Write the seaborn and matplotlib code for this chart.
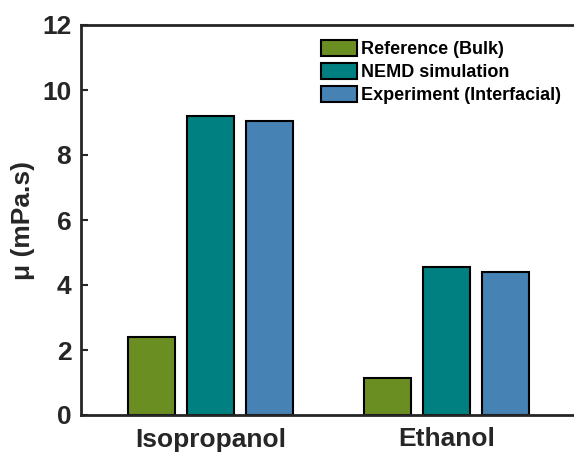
import numpy as np
import pandas as pd
import matplotlib
matplotlib.use("Agg")
import matplotlib.pyplot as plt
import seaborn as sns

# Viscosity values (mPa.s)
liquids = ["Isopropanol", "Ethanol"]
methods = ["Reference (Bulk)", "NEMD simulation", "Experiment (Interfacial)"]
reference_bulk = [2.4, 1.15]
nemd_simulation = [9.2, 4.55]
experiment_interfacial = [9.05, 4.4]
bar_colors = ["#6B8E23", "#008080", "#4682B4"]

df = pd.DataFrame({
    "liquid": liquids * 3,
    "method": [m for m in methods for _ in liquids],
    "mu": reference_bulk + nemd_simulation + experiment_interfacial,
})

sns.set_theme(style="white")
plt.rcParams["font.family"] = ["Liberation Sans", "DejaVu Sans"]
plt.rcParams["font.weight"] = "bold"

ink = "#262626"
fig = plt.figure(figsize=(5.74, 4.55), dpi=100)
ax = fig.add_axes([81 / 574, 40 / 455, 500 / 574, 390 / 455])

sns.barplot(data=df, x="liquid", y="mu", hue="method", order=liquids,
            hue_order=methods, palette=bar_colors, saturation=1,
            width=0.75, gap=0.2, edgecolor="black", linewidth=1.5,
            errorbar=None, ax=ax)

ax.set_ylim(0, 12)
ax.set_yticks(np.arange(0, 13, 2))
ax.set_xlim(-0.547, 1.568)
ax.set_xlabel("")
ax.set_ylabel("μ (mPa.s)", fontsize=19, fontweight="bold", color=ink, labelpad=5)

for side in ["left", "bottom", "top", "right"]:
    ax.spines[side].set_visible(True)
    ax.spines[side].set_linewidth(2)
    ax.spines[side].set_color(ink)

ax.tick_params(axis="both", direction="in", length=5, width=1.5, color=ink,
               labelcolor=ink, labelsize=19, left=True, bottom=True)
ax.tick_params(axis="y", pad=7)
ax.tick_params(axis="x", pad=9)
for lbl in ax.get_xticklabels() + ax.get_yticklabels():
    lbl.set_fontweight("bold")

leg = ax.legend(loc="upper left", bbox_to_anchor=(321 / 574, 1 - 40 / 455),
                bbox_transform=fig.transFigure, frameon=False,
                prop={"size": 13, "weight": "bold"}, handlelength=2.0,
                handleheight=1.0, handletextpad=0.2, labelspacing=0.25,
                borderpad=0, borderaxespad=0)
for t in leg.get_texts():
    t.set_color("black")

fig.savefig("out.png", dpi=100)
